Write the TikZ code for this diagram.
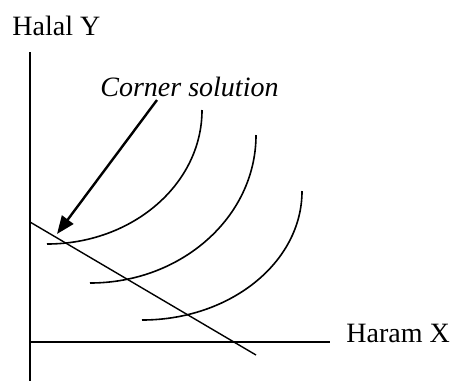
\documentclass[tikz,border=0pt]{standalone}
\usepackage{fontspec}
\setmainfont{Liberation Serif}
\usetikzlibrary{arrows.meta,positioning}

\begin{document}
\begin{tikzpicture}[x=0.5pt,y=-0.5pt,
    axislabel/.style={anchor=base west,inner sep=0pt,font=\fontsize{14}{16}\selectfont},
    indiff/.style={line width=0.8pt}]
  \useasboundingbox (0,0) rectangle (453,381);
  % axes
  \coordinate (origin) at (30,342);
  \coordinate (ytop) at (30,52);
  \coordinate (ybot) at (30,381);
  \coordinate (xend) at (330,342);
  \draw[line width=0.75pt] (ytop) -- (ybot);
  \draw[line width=0.75pt] (origin) -- (xend);
  \node[axislabel] (ylabel) at (12,35) {Halal Y};
  \node[axislabel] (xlabel) at (346,342) {Haram X};
  % budget line
  \coordinate (budgettop) at (30,222);
  \coordinate (budgetend) at (256,355);
  \draw[line width=0.7pt] (budgettop) -- (budgetend);
  % indifference curves (quarter ellipses)
  \foreach \xa/\ya/\xb/\yb in {47/244/202/110, 90/283/256/135, 142/320/302/191}
    \draw[indiff] (\xa,\ya) .. controls ({\xa+0.5523*(\xb-\xa)},\ya) and (\xb,{\yb+0.5523*(\ya-\yb)}) .. (\xb,\yb);
  % corner solution
  \node[axislabel,font=\fontsize{14}{16}\selectfont\itshape] (cornerlabel) at (100,96) {Corner solution};
  \coordinate (tail) at (157,100);
  \coordinate (corner) at (57,234);
  \draw[line width=1.2pt,-{Triangle[length=9pt,width=7pt]}] (tail) -- (corner);
\end{tikzpicture}
\end{document}
